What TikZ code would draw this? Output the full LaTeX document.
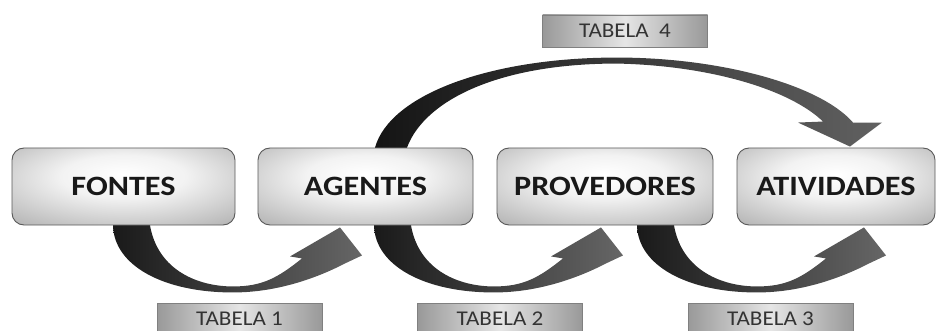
\documentclass[tikz,border=0pt]{standalone}
\usepackage{fontspec}
\setmainfont{Carlito}
\newfontfamily\stagefont[FakeStretch=1.15]{Carlito}
\newfontfamily\tablefont[FakeStretch=1.1]{Carlito}
\usetikzlibrary{calc,backgrounds}

% soft metallic glow for the stage boxes
\pgfdeclareradialshading{boxglow}{\pgfpoint{0bp}{8bp}}{%
  color(0bp)=(white); color(14bp)=(black!5); color(50bp)=(black!42); color(75bp)=(black!55)}

\tikzset{
  stagebox/.style={draw=black!65, line width=0.9pt, rounded corners=12pt,
    shading=boxglow, minimum height=77pt, inner sep=0pt,
    font=\stagefont\bfseries\fontsize{28}{30}\selectfont, text=black!90},
  tablebox/.style={draw=black!50, line width=0.6pt,
    left color=black!40, right color=black!40, middle color=black!10,
    minimum width=165pt, minimum height=32pt, inner sep=0pt,
    font=\tablefont\fontsize{21}{23}\selectfont, text=black!80},
  flowarrow/.style={left color=black!90, right color=black!60},
  looparrow/.style={left color=black!92, right color=black!62},
  % curved block arrow running under two neighbouring boxes
  pics/curvedarrow/.style={code={
    \path[flowarrow] (0,-4) -- (0,0)
      .. controls (1,40) and (50,67) .. (120,67)
      .. controls (165,67) and (205,52) .. (232,38)
      -- (249,30) -- (227,2) -- (177,31) -- (189,33)
      .. controls (165,52) and (150,61) .. (120,61)
      .. controls (85,61) and (45,45) .. (37,0) -- (37,-4) -- cycle;
  }}
}

\begin{document}
\begin{tikzpicture}[x=1pt,y=-1pt]
\useasboundingbox (0,0) rectangle (939,331);

% stages
\node[stagebox, minimum width=223pt] (fontes)     at (123.5,186.5) {FONTES};
\node[stagebox, minimum width=215pt] (agentes)    at (365.5,186.5) {AGENTES};
\node[stagebox, minimum width=216pt] (provedores) at (605,186.5)   {PROVEDORES};
\node[stagebox, minimum width=198pt] (atividades) at (836,186.5)   {ATIVIDADES};

% table labels
\node[tablebox] (tab4) at (625,31)    {TABELA\ \ 4};
\node[tablebox] (tab1) at (239.5,319) {TABELA 1};
\node[tablebox] (tab2) at (500,319)   {TABELA 2};
\node[tablebox] (tab3) at (770.5,319) {TABELA 3};

\begin{pgfonlayer}{background}
  % lower arrows between neighbouring stages
  \pic at ([xshift=-10.5pt]fontes.south)   {curvedarrow};
  \pic at ([xshift=8.5pt]agentes.south)    {curvedarrow};
  \pic at ([xshift=32pt]provedores.south)  {curvedarrow};

  % upper arrow from AGENTES over to ATIVIDADES
  \begin{scope}[shift={(agentes.north)}]
    \path[looparrow] (9.5,4) -- (9.5,0)
      .. controls (24.5,-53) and (124.5,-90) .. (251.5,-90)
      .. controls (354.5,-90) and (454.5,-63) .. (487.5,-25)
      -- (516.5,-25) -- (484.5,-1) -- (432.5,-25) -- (457.5,-26)
      .. controls (424.5,-58) and (344.5,-82) .. (251.5,-84)
      .. controls (134.5,-84) and (59.5,-48) .. (41.5,0)
      -- (41.5,4) -- cycle;
  \end{scope}
\end{pgfonlayer}
\end{tikzpicture}
\end{document}
